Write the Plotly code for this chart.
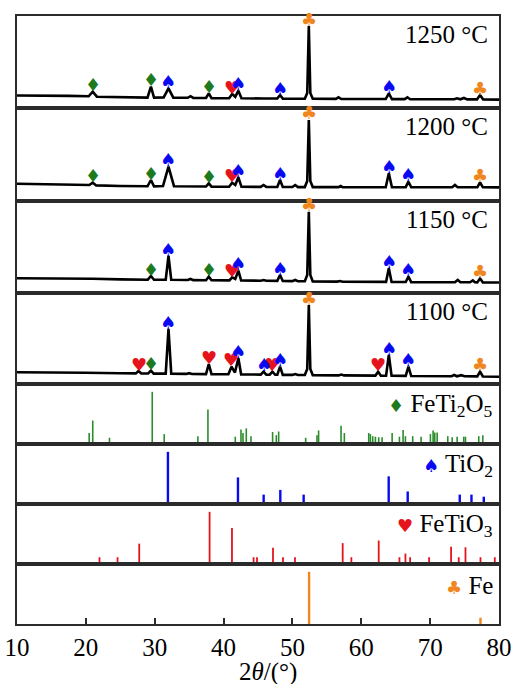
import plotly.graph_objects as go

# ---------------------------------------------------------------- data
x_tick_values = [10, 20, 30, 40, 50, 60, 70, 80]
temperature_labels = ["1250 °C", "1200 °C", "1150 °C", "1100 °C"]

# XRD traces: (2θ in degrees, intensity in a.u.)
pattern_1250 = [
    (10.0, 125), (14.0, 126), (17.5, 121), (20.4, 117), (21.0, 163), (21.6, 113),
    (24.5, 108), (28.95, 104), (29.45, 213), (29.9, 104), (31.3, 106), (32.0, 197),
    (32.7, 104), (34.8, 102), (35.2, 118), (35.6, 101), (37.45, 100), (37.85, 147),
    (38.25, 98), (40.8, 98), (41.25, 140), (41.7, 112), (42.15, 173), (42.6, 97),
    (45.8, 95), (47.8, 95), (48.2, 130), (48.6, 94), (51.8, 93), (52.15, 150),
    (52.38, 820), (52.6, 150), (52.95, 92), (56.3, 91), (56.7, 107), (57.1, 90),
    (63.55, 90), (64.0, 147), (64.45, 89), (66.3, 89), (66.7, 107), (67.1, 88),
    (73.5, 87), (73.9, 97), (74.4, 87), (74.9, 100), (75.4, 86), (76.8, 86),
    (77.25, 130), (77.7, 85), (80.0, 84),
]
pattern_1200 = [
    (10.0, 172), (14.0, 170), (18.0, 165), (20.5, 160), (21.0, 183), (21.5, 156),
    (25.0, 150), (28.95, 147), (29.45, 210), (29.9, 146), (31.2, 150), (32.0, 343),
    (32.8, 148), (35.0, 146), (37.45, 145), (37.85, 177), (38.25, 144), (40.8, 143),
    (41.25, 183), (41.7, 160), (42.15, 237), (42.6, 142), (45.4, 141), (45.8, 160),
    (46.2, 141), (47.8, 140), (48.2, 210), (48.6, 140), (50.0, 140), (50.4, 160),
    (50.8, 139), (51.8, 139), (52.15, 200), (52.38, 810), (52.6, 200), (52.95, 139),
    (56.7, 139), (57.0, 150), (57.3, 138), (63.55, 138), (64.0, 277), (64.45, 138),
    (66.45, 138), (66.85, 193), (67.25, 137), (73.2, 137), (73.6, 160), (74.0, 137),
    (76.85, 137), (77.25, 187), (77.65, 137), (80.0, 136),
]
pattern_1150 = [
    (10.0, 147), (15.0, 146), (20.0, 140), (21.0, 142), (25.0, 136), (29.0, 133),
    (29.45, 170), (29.9, 132), (31.6, 133), (32.0, 370), (32.4, 132), (34.8, 130),
    (35.2, 140), (35.6, 129), (37.45, 128), (37.85, 163), (38.25, 127), (40.85, 126),
    (41.25, 157), (41.7, 140), (42.15, 223), (42.55, 125), (45.4, 123), (45.8, 130),
    (46.2, 122), (47.8, 121), (48.2, 180), (48.6, 120), (50.0, 119), (50.4, 130),
    (50.8, 118), (51.8, 118), (52.15, 180), (52.38, 813), (52.6, 180), (52.95, 116),
    (56.5, 114), (56.9, 120), (57.3, 113), (63.6, 111), (64.0, 247), (64.4, 110),
    (66.45, 110), (66.85, 163), (67.25, 109), (73.6, 108), (74.0, 130), (74.4, 107),
    (75.8, 107), (76.2, 125), (76.5, 107), (76.85, 106), (77.25, 147), (77.65, 106),
    (80.0, 105),
]
pattern_1100 = [
    (10.0, 117), (15.0, 117), (20.0, 112), (25.0, 108), (27.25, 106), (27.65, 130),
    (28.05, 105), (29.05, 105), (29.45, 133), (29.85, 104), (31.6, 104), (32.0, 550),
    (32.4, 103), (34.6, 101), (35.0, 108), (35.4, 100), (37.45, 99), (37.85, 200),
    (38.25, 98), (40.7, 97), (41.15, 173), (41.65, 115), (42.15, 257), (42.55, 96),
    (45.4, 94), (45.8, 123), (46.2, 93), (46.7, 93), (47.1, 123), (47.5, 92),
    (47.8, 92), (48.2, 173), (48.6, 91), (50.0, 91), (50.4, 100), (50.8, 90),
    (51.8, 90), (52.15, 150), (52.38, 790), (52.6, 150), (52.95, 89), (56.7, 86),
    (57.1, 95), (57.5, 86), (62.05, 84), (62.45, 123), (62.85, 83), (63.6, 83),
    (64.0, 290), (64.4, 82), (66.45, 81), (66.85, 173), (67.25, 80), (73.1, 78),
    (73.5, 90), (73.9, 77), (74.5, 88), (75.0, 77), (76.85, 76), (77.25, 123),
    (77.65, 75), (80.0, 73),
]

# phase assignments of the labelled reflections (phase, 2θ)
marks_1250 = [
    ("FeTi2O5", 21.0), ("FeTi2O5", 29.45), ("TiO2", 32.0), ("FeTi2O5", 37.85),
    ("FeTiO3", 41.25), ("TiO2", 42.15), ("TiO2", 48.2), ("Fe", 52.38),
    ("TiO2", 64.0), ("Fe", 77.25),
]
marks_1200 = [
    ("FeTi2O5", 21.0), ("FeTi2O5", 29.45), ("TiO2", 32.0), ("FeTi2O5", 37.85),
    ("FeTiO3", 41.25), ("TiO2", 42.15), ("TiO2", 48.2), ("Fe", 52.38),
    ("TiO2", 64.0), ("TiO2", 66.85), ("Fe", 77.25),
]
marks_1150 = [
    ("FeTi2O5", 29.45), ("TiO2", 32.0), ("FeTi2O5", 37.85), ("FeTiO3", 41.25),
    ("TiO2", 42.15), ("TiO2", 48.2), ("Fe", 52.38), ("TiO2", 64.0),
    ("TiO2", 66.85), ("Fe", 77.25),
]
marks_1100 = [
    ("FeTiO3", 27.65), ("FeTi2O5", 29.45), ("TiO2", 32.0), ("FeTiO3", 37.85),
    ("FeTiO3", 41.15), ("TiO2", 42.15), ("TiO2", 45.8), ("FeTiO3", 47.1),
    ("TiO2", 48.2), ("Fe", 52.38), ("FeTiO3", 62.45), ("TiO2", 64.0),
    ("TiO2", 66.85), ("Fe", 77.25),
]

# standard reference patterns: 2θ and relative intensity (%)
feti2o5_pos = [20.48, 21.0, 23.43, 29.64, 31.38, 36.27, 37.73, 41.7, 42.53, 42.82,
               43.3, 43.98, 47.12, 47.66, 48.0, 51.92, 53.57, 53.8, 57.06, 57.54,
               61.08, 61.32, 61.66, 62.05, 62.53, 63.02, 64.48, 65.54, 66.07, 66.41,
               67.47, 68.69, 70.04, 70.43, 70.67, 71.02, 72.56, 73.2, 73.92, 74.88,
               75.13, 77.06, 77.65]
feti2o5_int = [21, 45, 12, 100, 19, 15, 66, 14, 28, 21,
               30, 15, 23, 17, 24, 12, 17, 26, 35, 21,
               21, 19, 15, 14, 13, 13, 21, 14, 27, 15,
               15, 14, 19, 26, 22, 22, 15, 13, 14, 14,
               14, 15, 17]
tio2_pos = [31.92, 42.09, 45.82, 48.24, 51.63, 63.98, 66.74, 74.3, 76.0, 77.79]
tio2_int = [100, 51, 18, 27, 18, 53, 24, 18, 18, 14]
fetio3_pos = [21.98, 24.6, 27.75, 37.97, 41.22, 44.36, 44.85, 47.18, 48.63, 50.37,
              57.3, 58.56, 62.53, 65.54, 66.41, 67.09, 69.85, 73.04, 74.15, 75.13,
              77.31, 79.39]
fetio3_int = [13, 13, 39, 100, 69, 13, 13, 31, 13, 13,
              40, 13, 45, 13, 20, 13, 13, 33, 13, 32,
              13, 13]
fe_pos = [52.42, 77.31]
fe_int = [100, 12]

# ---------------------------------------------------------------- style
serif = "Liberation Serif, Times New Roman, serif"
glyph_font = "DejaVu Sans"
phase_glyph = {"FeTi2O5": "♦", "TiO2": "♠", "FeTiO3": "♥", "Fe": "♣"}
phase_color = {"FeTi2O5": "#1d7a1d", "TiO2": "#0a0af2", "FeTiO3": "#e5141c", "Fe": "#f0861e"}
stick_color = {"FeTi2O5": "#2c8c2c", "TiO2": "#0a0af2", "FeTiO3": "#e5141c", "Fe": "#f0861e"}
stick_width = {"FeTi2O5": 1.6, "TiO2": 2.4, "FeTiO3": 1.8, "Fe": 2.4}
phase_title = {
    "FeTi2O5": "FeTi<sub>2</sub>O<sub>5</sub>",
    "TiO2": "TiO<sub>2</sub>",
    "FeTiO3": "FeTiO<sub>3</sub>",
    "Fe": "Fe",
}
draw_order = ["FeTiO3", "FeTi2O5", "TiO2", "Fe"]
glyph_size = 18
glyph_lift = 7          # px between a peak top and the centre of its phase symbol
text_size = 25

W, H = 513, 684
M_L, M_R, M_T, M_B = 17, 14, 16, 60
panel_px = [92, 93, 92, 91, 60, 60, 60, 60]
plot_h = sum(panel_px)
plot_w = W - M_L - M_R
xrd_ranges = [[0, 920], [0, 930], [0, 920], [0, 910]]
stick_range = [0, 115]

patterns = [pattern_1250, pattern_1200, pattern_1150, pattern_1100]
marks = [marks_1250, marks_1200, marks_1150, marks_1100]
references = [
    ("FeTi2O5", feti2o5_pos, feti2o5_int),
    ("TiO2", tio2_pos, tio2_int),
    ("FeTiO3", fetio3_pos, fetio3_int),
    ("Fe", fe_pos, fe_int),
]

fig = go.Figure()
annotations = []


def axis_suffix(i):
    return "" if i == 0 else str(i + 1)


# ---------------------------------------------------------------- XRD panels
for i, (pattern, mk) in enumerate(zip(patterns, marks)):
    sfx = axis_suffix(i)
    xs = [p[0] for p in pattern]
    ys = [p[1] for p in pattern]
    fig.add_trace(go.Scatter(
        x=xs, y=ys, mode="lines", xaxis="x" + sfx, yaxis="y" + sfx,
        line=dict(color="black", width=2.6), hoverinfo="skip", showlegend=False,
    ))
    apex = dict(pattern)
    for phase in draw_order:
        for ph, t in mk:
            if ph != phase:
                continue
            annotations.append(dict(
                text=phase_glyph[phase], x=t, y=apex[t],
                xref="x" + sfx, yref="y" + sfx, xanchor="center", yanchor="middle",
                yshift=glyph_lift, showarrow=False, borderpad=0,
                font=dict(family=glyph_font, size=glyph_size, color=phase_color[phase]),
            ))

# ---------------------------------------------------------------- reference sticks
for j, (phase, pos, inten) in enumerate(references):
    sfx = axis_suffix(4 + j)
    sx, sy = [], []
    for p, v in zip(pos, inten):
        sx += [p, p, None]
        sy += [0, v, None]
    fig.add_trace(go.Scatter(
        x=sx, y=sy, mode="lines", xaxis="x" + sfx, yaxis="y" + sfx,
        line=dict(color=stick_color[phase], width=stick_width[phase]),
        hoverinfo="skip", showlegend=False,
    ))

# ---------------------------------------------------------------- axes
layout = dict(
    width=W, height=H, margin=dict(l=M_L, r=M_R, t=M_T, b=M_B, autoexpand=False),
    paper_bgcolor="white", plot_bgcolor="white", showlegend=False,
    font=dict(family=serif, size=text_size, color="black"),
)
top = 0
n = len(panel_px)
for i, h in enumerate(panel_px):
    sfx = axis_suffix(i)
    dom = [1 - (top + h) / plot_h, 1 - top / plot_h]
    top += h
    bottom_panel = i == n - 1
    layout["xaxis" + sfx] = dict(
        range=[10, 80], anchor="y" + sfx, matches=None if i == 0 else "x",
        domain=[0, 1], automargin=False,
        showline=True, mirror=True, linecolor="#2b2b2b", linewidth=1.5,
        showgrid=False, zeroline=False,
        ticks="inside" if bottom_panel else "", ticklen=6, tickwidth=1.5, tickcolor="#2b2b2b",
        tickvals=x_tick_values, showticklabels=bottom_panel,
        tickfont=dict(family=serif, size=text_size, color="black"),
    )
    layout["yaxis" + sfx] = dict(
        domain=dom, anchor="x" + sfx, automargin=False,
        range=xrd_ranges[i] if i < 4 else stick_range,
        showline=True, mirror=True, linecolor="#2b2b2b", linewidth=1.5,
        showgrid=False, zeroline=False, ticks="", showticklabels=False,
    )
fig.update_layout(**layout)

for i, label in enumerate(temperature_labels):
    sfx = axis_suffix(i)
    annotations.append(dict(
        text=label, xref="paper", x=(490 - M_L) / plot_w, xanchor="right",
        yref="y" + sfx + " domain", y=1 - 18 / panel_px[i], yanchor="middle",
        showarrow=False, font=dict(family=serif, size=text_size, color="black"),
    ))
for j, (phase, _, _) in enumerate(references):
    sfx = axis_suffix(4 + j)
    glyph = (f"<span style='font-family:{glyph_font};font-size:{glyph_size}px;"
             f"color:{phase_color[phase]}'>{phase_glyph[phase]}</span>")
    annotations.append(dict(
        text=glyph + " " + phase_title[phase], xref="paper",
        x=(495 - M_L) / plot_w, xanchor="right",
        yref="y" + sfx + " domain", y=1 - 21 / panel_px[4 + j], yanchor="middle",
        showarrow=False, font=dict(family=serif, size=text_size, color="black"),
    ))
annotations.append(dict(
    text="2<i>θ</i>/(°)", xref="paper", x=(268 - M_L) / plot_w, xanchor="center",
    yref="paper", y=-48 / plot_h, yanchor="middle", showarrow=False,
    font=dict(family=serif, size=text_size, color="black"),
))
fig.update_layout(annotations=annotations)

fig.write_html("out.html")
